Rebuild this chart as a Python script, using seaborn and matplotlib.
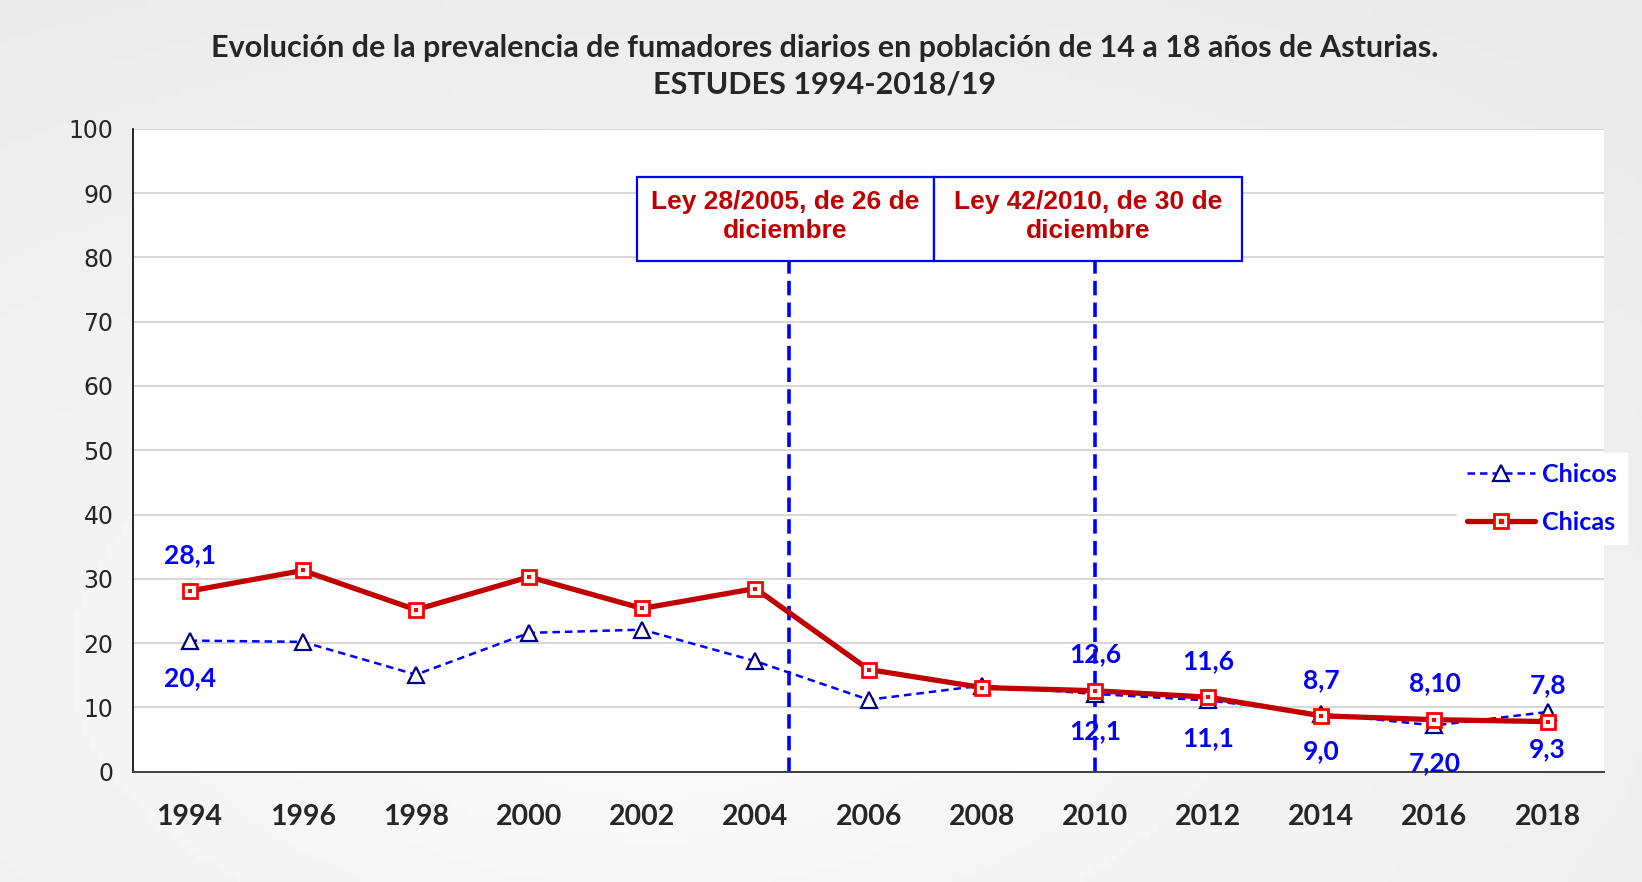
import matplotlib
matplotlib.use("Agg")
import matplotlib.pyplot as plt
from matplotlib.patches import Rectangle
from matplotlib.lines import Line2D
from matplotlib.legend_handler import HandlerTuple
import numpy as np
import pandas as pd
import seaborn as sns

sns.set_style("white")

years = [1994, 1996, 1998, 2000, 2002, 2004, 2006, 2008, 2010, 2012, 2014, 2016, 2018]
chicas = [28.1, 31.3, 25.2, 30.3, 25.4, 28.5, 15.9, 13.1, 12.6, 11.6, 8.7, 8.1, 7.8]
chicos = [20.4, 20.2, 15.1, 21.6, 22.1, 17.2, 11.2, 13.4, 12.1, 11.1, 9.0, 7.2, 9.3]

# etiquetas de datos (solo algunos años)
label_years = [1994, 2010, 2012, 2014, 2016, 2018]
chicas_labels = ["28,1", "12,6", "11,6", "8,7", "8,10", "7,8"]
chicos_labels = ["20,4", "12,1", "11,1", "9,0", "7,20", "9,3"]

# leyes
law_x = [2004.6, 2010.0]
law_edges = [2001.9, 2007.15, 2012.6]
law_box_y = (79.5, 92.5)
law_text = ["Ley 28/2005, de 26 de\ndiciembre", "Ley 42/2010, de 30 de\ndiciembre"]

df = pd.DataFrame({"year": years, "Chicas": chicas, "Chicos": chicos})

RED = "#c00000"
BLUE = "#0000ff"
NAVY = "#000080"

fig = plt.figure(figsize=(16.42, 8.82), dpi=100, facecolor="#f0f0f0")

# fondo degradado tipo diapositiva
bg = fig.add_axes([0, 0, 1, 1], zorder=-10)
gx, gy = np.meshgrid(np.linspace(0, 1, 200), np.linspace(0, 1, 120))
dist = np.sqrt(((gx - 0.4) / 0.9) ** 2 + ((gy - 0.75) / 0.9) ** 2)
bg.imshow(0.985 - 0.07 * np.clip(dist, 0, 1), cmap="gray", vmin=0, vmax=1,
          extent=[0, 1, 0, 1], aspect="auto", origin="upper")
bg.set_axis_off()

ax = fig.add_axes([0.081, 0.125, 0.896, 0.729])
ax.set_facecolor("white")

sns.lineplot(data=df, x="year", y="Chicos", ax=ax, color=BLUE, linewidth=1.8,
             marker="^", markersize=11, markerfacecolor="white",
             markeredgecolor=NAVY, markeredgewidth=1.6, zorder=3)
ax.lines[-1].set_dashes((3, 2))
sns.lineplot(data=df, x="year", y="Chicas", ax=ax, color=RED, linewidth=3.8,
             marker="s", markersize=10, markerfacecolor="white",
             markeredgecolor="#ff0000", markeredgewidth=2, zorder=4)
sns.scatterplot(data=df, x="year", y="Chicas", ax=ax, marker="s", s=10,
                color="#ff0000", linewidth=0, zorder=5)

# etiquetas de datos
for yr, lab in zip(label_years, chicas_labels):
    v = chicas[years.index(yr)]
    ax.annotate(lab, (yr, v), xytext=(0, 26), textcoords="offset points",
                ha="center", va="center", color=BLUE, fontsize=19,
                fontweight="bold", family="Lato", zorder=6)
for yr, lab in zip(label_years, chicos_labels):
    v = chicos[years.index(yr)]
    ax.annotate(lab, (yr, v), xytext=(0, -27), textcoords="offset points",
                ha="center", va="center", color=BLUE, fontsize=19,
                fontweight="bold", family="Lato", zorder=6)

# lineas verticales y cajas de las leyes
for x in law_x:
    ax.plot([x, x], [0, law_box_y[0]], color=BLUE, linewidth=2.6,
            dashes=(4, 2), zorder=2)
for i, txt in enumerate(law_text):
    x0, x1 = law_edges[i], law_edges[i + 1]
    ax.add_patch(Rectangle((x0, law_box_y[0]), x1 - x0, law_box_y[1] - law_box_y[0],
                           facecolor="white", edgecolor=BLUE, linewidth=1.6, zorder=6))
    ax.text((x0 + x1) / 2, sum(law_box_y) / 2 + 0.3, txt, ha="center", va="center",
            color=RED, fontsize=19, fontweight="bold", family="Liberation Sans",
            linespacing=1.25, zorder=7)

ax.set_xlim(1993, 2019)
ax.set_ylim(0, 100)
ax.set_yticks(range(0, 101, 10))
ax.set_xticks(years)
ax.set_xticks(range(1993, 2020, 2), minor=True)
ax.set_xticklabels([str(y) for y in years], fontsize=20.5, fontweight="bold",
                   family="Lato")
ax.tick_params(axis="x", which="major", length=0, pad=23)
ax.tick_params(axis="x", which="minor", length=9, width=1.2, color="#404040",
               direction="out")
ax.tick_params(axis="y", length=8, width=1.2, color="#808080", direction="out",
               labelsize=17, pad=6)
for lab in ax.get_yticklabels():
    lab.set_family("DejaVu Sans")
ax.set_xlabel("")
ax.set_ylabel("")
ax.yaxis.grid(True, color="#d0d0d0", linewidth=1.2)
ax.set_axisbelow(True)
for s in ["top", "right"]:
    ax.spines[s].set_visible(False)
ax.spines["left"].set_color("black")
ax.spines["bottom"].set_color("#404040")
ax.spines["left"].set_linewidth(1.2)
ax.spines["bottom"].set_linewidth(1.4)

# leyenda
h_chicos = Line2D([], [], color=BLUE, linewidth=1.8, dashes=(3, 2), marker="^",
                  markersize=11, markerfacecolor="white", markeredgecolor=NAVY,
                  markeredgewidth=1.6)
h_chicas = Line2D([], [], color=RED, linewidth=3.8, marker="s", markersize=10,
                  markerfacecolor="white", markeredgecolor="#ff0000",
                  markeredgewidth=2)
h_dot = Line2D([], [], linestyle="none", marker="s", markersize=3,
               color="#ff0000")
leg = fig.legend([h_chicos, (h_chicas, h_dot)], ["Chicos", "Chicas"],
                 handler_map={tuple: HandlerTuple(ndivide=1)},
                 loc="center left", bbox_to_anchor=(0.880, 0.435),
                 frameon=True, facecolor="white", edgecolor="white",
                 framealpha=1, fancybox=False, handlelength=2.7,
                 handletextpad=0.3, labelspacing=1.0,
                 prop={"family": "Lato", "weight": "bold", "size": 18},
                 borderpad=0.4)
for t in leg.get_texts():
    t.set_color(BLUE)

fig.text(0.502, 0.946, "Evolución de la prevalencia de fumadores diarios en población de 14 a 18 años de Asturias.",
         ha="center", va="center", fontsize=22, fontweight="bold", family="Lato")
fig.text(0.502, 0.904, "ESTUDES 1994-2018/19", ha="center", va="center",
         fontsize=22, fontweight="bold", family="Lato")

fig.savefig("out.png", dpi=100, facecolor=fig.get_facecolor())
